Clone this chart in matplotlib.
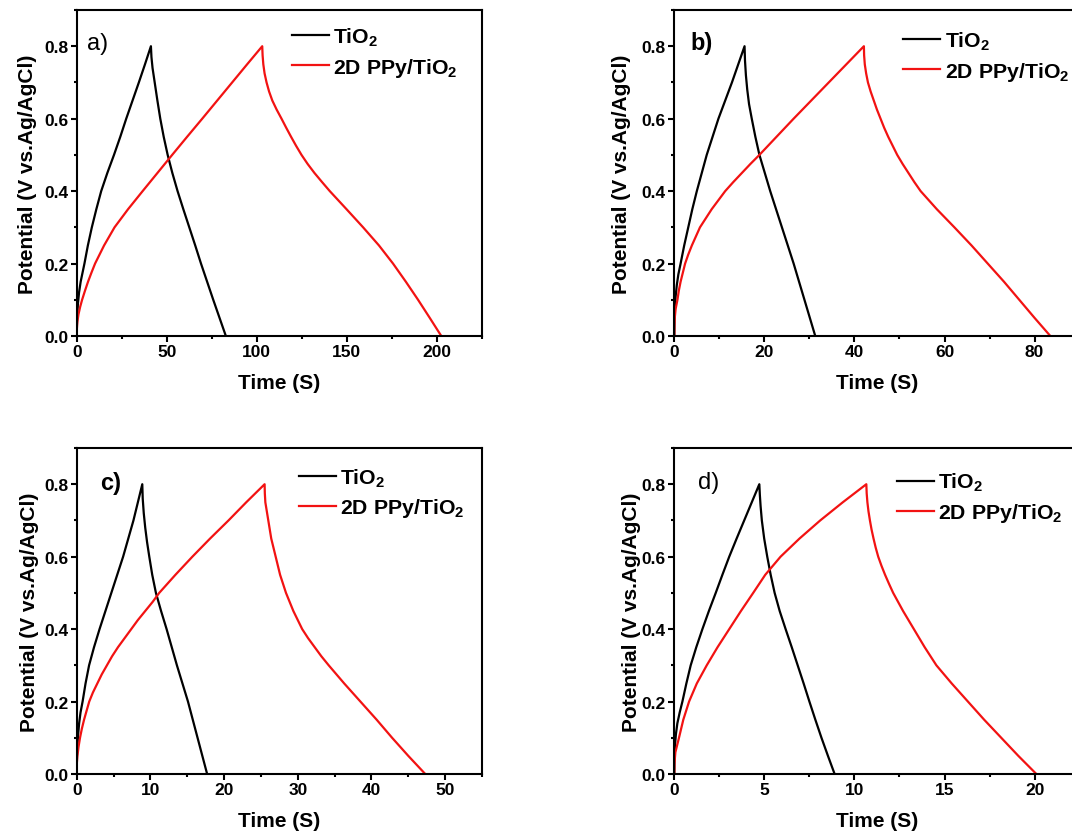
import matplotlib
matplotlib.use("Agg")
import matplotlib.pyplot as plt
from matplotlib.ticker import MultipleLocator

plt.rcParams["font.family"] = ["Liberation Sans", "DejaVu Sans"]
plt.rcParams["font.weight"] = "bold"
plt.rcParams["mathtext.fontset"] = "custom"
plt.rcParams["mathtext.rm"] = "Liberation Sans:bold"
plt.rcParams["mathtext.bf"] = "Liberation Sans:bold"
plt.rcParams["mathtext.default"] = "rm"

# ── GCD curves: time (s) vs potential (V vs. Ag/AgCl), charge then discharge ──

# a)
a_tio2_t = [0, 0.1, 0.3, 0.7, 1.3, 2.2, 4.3, 6.2, 8.4, 10.9, 13.6, 17.0, 20.7,
            24.2, 27.5, 31.0, 34.5, 37.9, 41.2,
            41.5, 42.1, 43.3, 44.8, 46.4, 48.3, 50.5, 53.1, 56.0, 59.2, 62.5,
            65.8, 69.0, 72.4, 75.8, 79.3, 82.8]
a_tio2_v = [0, 0.03, 0.06, 0.09, 0.12, 0.15, 0.20, 0.25, 0.30, 0.35, 0.40, 0.45,
            0.50, 0.55, 0.60, 0.65, 0.70, 0.75, 0.80,
            0.77, 0.74, 0.70, 0.65, 0.60, 0.55, 0.50, 0.45, 0.40, 0.35, 0.30,
            0.25, 0.20, 0.15, 0.10, 0.05, 0.0]
a_ppy_t = [0, 0.1, 0.4, 1.0, 1.9, 3.0, 4.6, 6.3, 8.2, 10.2, 15.2, 21.0, 28.5,
           36.6, 44.8, 53.0, 61.3, 69.7, 78.0, 86.3, 94.6, 103.0,
           103.2, 103.6, 104.3, 105.4, 106.8, 108.6, 111.0, 113.7, 116.3,
           119.0, 121.8, 124.8, 128.2, 132.0, 136.2, 140.5, 149.8, 159.0,
           167.8, 175.6, 182.7, 189.5, 196.0, 202.4]
a_ppy_v = [0, 0.02, 0.04, 0.06, 0.08, 0.10, 0.125, 0.15, 0.175, 0.20, 0.25, 0.30,
           0.35, 0.40, 0.45, 0.50, 0.55, 0.60, 0.65, 0.70, 0.75, 0.80,
           0.775, 0.75, 0.725, 0.70, 0.675, 0.65, 0.625, 0.60, 0.575,
           0.55, 0.525, 0.50, 0.475, 0.45, 0.425, 0.40, 0.35, 0.30,
           0.25, 0.20, 0.15, 0.10, 0.05, 0.0]

# b)
b_tio2_t = [0, 0.05, 0.15, 0.3, 0.55, 0.9, 1.4, 2.2, 3.1, 4.0, 5.0, 6.1, 7.2,
            8.5, 9.8, 11.3, 12.8, 14.2, 15.6,
            15.7, 15.9, 16.2, 16.6, 17.2, 18.0, 18.9, 20.1, 21.3, 22.6, 23.9,
            25.2, 26.5, 27.7, 28.9, 30.1, 31.3]
b_tio2_v = [0, 0.05, 0.08, 0.11, 0.14, 0.17, 0.20, 0.25, 0.30, 0.35, 0.40, 0.45,
            0.50, 0.55, 0.60, 0.65, 0.70, 0.75, 0.80,
            0.76, 0.72, 0.68, 0.64, 0.60, 0.55, 0.50, 0.45, 0.40, 0.35, 0.30,
            0.25, 0.20, 0.15, 0.10, 0.05, 0.0]
b_ppy_t = [0, 0.03, 0.1, 0.3, 0.7, 1.0, 1.4, 1.9, 2.4, 3.1, 3.9, 4.8, 5.7, 7.0,
           8.3, 9.8, 11.3, 13.1, 15.0, 16.9, 18.9, 22.7, 26.5, 30.4, 34.3,
           38.2, 42.1,
           42.15, 42.3, 42.6, 43.0, 43.6, 44.3, 45.0, 45.8, 46.6, 47.5, 48.5,
           49.5, 50.7, 52.0, 53.3, 54.7, 58.3, 62.2, 66.0, 69.6, 73.2, 76.6,
           80.0, 83.5]
b_ppy_v = [0, 0.03, 0.05, 0.075, 0.10, 0.125, 0.15, 0.175, 0.20, 0.225, 0.25,
           0.275, 0.30, 0.325, 0.35, 0.375, 0.40, 0.425, 0.45, 0.475, 0.50,
           0.55, 0.60, 0.65, 0.70, 0.75, 0.80,
           0.775, 0.75, 0.725, 0.70, 0.675, 0.65, 0.625, 0.60, 0.575, 0.55,
           0.525, 0.50, 0.475, 0.45, 0.425, 0.40, 0.35, 0.30, 0.25, 0.20,
           0.15, 0.10, 0.05, 0.0]

# c)
c_tio2_t = [0, 0.03, 0.1, 0.2, 0.33, 0.52, 0.8, 1.2, 1.68, 2.35, 3.1, 3.9, 4.7,
            5.5, 6.3, 7.0, 7.7, 8.3, 8.9,
            8.96, 9.1, 9.3, 9.55, 9.85, 10.25, 10.75, 11.45, 12.2, 12.9, 13.6,
            14.35, 15.1, 15.75, 16.4, 17.05, 17.7]
c_tio2_v = [0, 0.05, 0.08, 0.11, 0.14, 0.17, 0.20, 0.25, 0.30, 0.35, 0.40, 0.45,
            0.50, 0.55, 0.60, 0.65, 0.70, 0.75, 0.80,
            0.76, 0.72, 0.68, 0.64, 0.60, 0.55, 0.50, 0.45, 0.40, 0.35, 0.30,
            0.25, 0.20, 0.15, 0.10, 0.05, 0.0]
c_ppy_t = [0, 0.02, 0.1, 0.25, 0.45, 0.7, 1.0, 1.35, 1.7, 2.2, 2.8, 3.4, 4.1,
           4.8, 5.6, 6.5, 7.4, 8.3, 9.3, 10.3, 11.2, 13.4, 15.7, 18.1, 20.6,
           23.0, 25.5,
           25.53, 25.6, 25.8, 26.0, 26.2, 26.4, 26.7, 27.0, 27.3, 27.6, 28.0,
           28.4, 28.9, 29.4, 30.0, 30.6, 31.4, 32.3, 33.2, 34.2, 36.3, 38.5,
           40.7, 42.8, 45.0, 47.3]
c_ppy_v = [0, 0.03, 0.05, 0.075, 0.10, 0.125, 0.15, 0.175, 0.20, 0.225, 0.25,
           0.275, 0.30, 0.325, 0.35, 0.375, 0.40, 0.425, 0.45, 0.475, 0.50,
           0.55, 0.60, 0.65, 0.70, 0.75, 0.80,
           0.775, 0.75, 0.725, 0.70, 0.675, 0.65, 0.625, 0.60, 0.575, 0.55,
           0.525, 0.50, 0.475, 0.45, 0.425, 0.40, 0.375, 0.35, 0.325, 0.30,
           0.25, 0.20, 0.15, 0.10, 0.05, 0.0]

# d)
d_tio2_t = [0, 0.01, 0.04, 0.09, 0.17, 0.3, 0.45, 0.67, 0.91, 1.22, 1.56, 1.92,
            2.3, 2.67, 3.05, 3.46, 3.88, 4.3, 4.72,
            4.75, 4.79, 4.86, 4.99, 5.16, 5.35, 5.57, 5.85, 6.18, 6.52, 6.85,
            7.18, 7.5, 7.83, 8.17, 8.53, 8.9]
d_tio2_v = [0, 0.04, 0.08, 0.11, 0.14, 0.17, 0.20, 0.25, 0.30, 0.35, 0.40, 0.45,
            0.50, 0.55, 0.60, 0.65, 0.70, 0.75, 0.80,
            0.77, 0.74, 0.70, 0.65, 0.60, 0.55, 0.50, 0.45, 0.40, 0.35, 0.30,
            0.25, 0.20, 0.15, 0.10, 0.05, 0.0]
d_ppy_t = [0, 0.01, 0.06, 0.26, 0.5, 0.82, 1.25, 1.8, 2.4, 3.05, 3.7, 4.38,
           5.05, 5.9, 6.95, 8.1, 9.35, 10.66,
           10.68, 10.72, 10.78, 10.86, 10.95, 11.06, 11.18, 11.32, 11.5, 11.7,
           11.92, 12.15, 12.7, 13.3, 13.9, 14.55, 15.4, 16.3, 17.2, 18.15,
           19.1, 20.1]
d_ppy_v = [0, 0.03, 0.06, 0.10, 0.15, 0.20, 0.25, 0.30, 0.35, 0.40, 0.45, 0.50,
           0.55, 0.60, 0.65, 0.70, 0.75, 0.80,
           0.775, 0.75, 0.725, 0.70, 0.675, 0.65, 0.625, 0.60, 0.575, 0.55,
           0.525, 0.50, 0.45, 0.40, 0.35, 0.30, 0.25, 0.20, 0.15, 0.10,
           0.05, 0.0]

series_names = ["TiO$_2$", "2D PPy/TiO$_2$"]
panel_tags = ["a)", "b)", "c)", "d)"]
tag_weights = ["normal", "bold", "bold", "normal"]
x_limits = [225, 90, 55, 22.5]
x_major = [50, 20, 10, 5]


def draw_panel(ax, tio2_t, tio2_v, ppy_t, ppy_v, tag, tag_weight, xmax, xstep,
               legend_xy, tag_xy, ylabel_pad):
    ax.plot(tio2_t, tio2_v, color="black", lw=1.6, label=series_names[0])
    ax.plot(ppy_t, ppy_v, color="#f21212", lw=1.6, label=series_names[1])

    ax.set_xlim(0, xmax)
    ax.set_ylim(0, 0.9)
    ax.xaxis.set_major_locator(MultipleLocator(xstep))
    ax.xaxis.set_minor_locator(MultipleLocator(xstep / 2))
    ax.yaxis.set_major_locator(MultipleLocator(0.2))
    ax.yaxis.set_minor_locator(MultipleLocator(0.1))
    ax.yaxis.set_major_formatter(plt.FormatStrFormatter("%.1f"))

    for s in ax.spines.values():
        s.set_linewidth(1.5)
    ax.tick_params(which="both", direction="out", width=1.5, labelsize=12.5,
                   top=False, right=False, pad=2)
    ax.tick_params(which="major", length=4)
    ax.tick_params(which="minor", length=2.5)

    ax.set_xlabel("Time (S)", fontsize=15, fontweight="bold", labelpad=10)
    ax.set_ylabel("Potential (V vs.Ag/AgCl)", fontsize=15, fontweight="bold",
                  labelpad=ylabel_pad)

    ax.text(tag_xy[0], tag_xy[1], tag, transform=ax.transAxes, fontsize=17,
            fontweight=tag_weight, va="center", ha="left")

    ax.legend(loc="center left", bbox_to_anchor=legend_xy, frameon=False,
              borderpad=0, borderaxespad=0, handlelength=1.75,
              handletextpad=0.19, labelspacing=0.36,
              prop={"weight": "bold", "size": 15.3})


fig = plt.figure(figsize=(10.72, 8.37), dpi=100)

W, H = 1072, 837
ax_w, ax_h = 405.3 / W, 326 / H
lefts = [76.7 / W, 674.3 / W, 76.7 / W, 674.3 / W]
bottoms = [1 - 337 / H, 1 - 337 / H, 1 - 775 / H, 1 - 775 / H]
legend_pos = [(0.531, 0.871), (0.565, 0.858), (0.549, 0.862), (0.549, 0.848)]
tag_pos = [(0.025, 0.9), (0.04, 0.9), (0.058, 0.895), (0.059, 0.895)]
ylabel_pads = [5.2, 8.0, 3.7, 0.8]

curves = [
    (a_tio2_t, a_tio2_v, a_ppy_t, a_ppy_v),
    (b_tio2_t, b_tio2_v, b_ppy_t, b_ppy_v),
    (c_tio2_t, c_tio2_v, c_ppy_t, c_ppy_v),
    (d_tio2_t, d_tio2_v, d_ppy_t, d_ppy_v),
]

for i, data in enumerate(curves):
    ax = fig.add_axes([lefts[i], bottoms[i], ax_w, ax_h])
    draw_panel(ax, *data, panel_tags[i], tag_weights[i], x_limits[i],
               x_major[i], legend_pos[i], tag_pos[i], ylabel_pads[i])

fig.savefig("out.png", dpi=100)
